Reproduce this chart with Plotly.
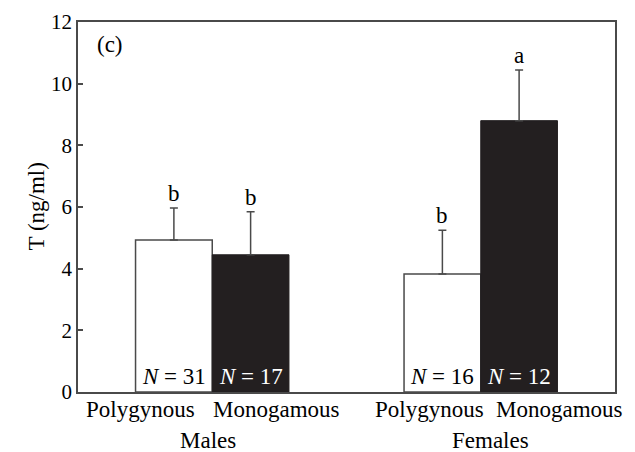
import plotly.graph_objects as go

groups = ["Males", "Females"]
systems = ["Polygynous", "Monogamous"]
mean_poly = [4.93, 3.83]
mean_mono = [4.45, 8.80]
se_poly = [1.04, 1.42]
se_mono = [1.40, 1.64]
n_poly = [31, 16]
n_mono = [17, 12]
letters_poly = ["b", "b"]
letters_mono = ["b", "a"]
y_ticks = [0, 2, 4, 6, 8, 10, 12]

FONT = "Liberation Serif"
FS = 23
AX = "#4a4a4a"
BLACK = "#231f20"

group_start = [0.75, 4.25]
x_poly = [g + 0.5 for g in group_start]
x_mono = [g + 1.5 for g in group_start]

fig = go.Figure()
fig.add_trace(go.Bar(
    x=x_poly, y=mean_poly, width=1.0, name=systems[0],
    marker=dict(color="white", line=dict(color=AX, width=1.5)),
    error_y=dict(type="data", symmetric=False, array=se_poly, arrayminus=[0, 0],
                 color=AX, thickness=1.5, width=4),
))
fig.add_trace(go.Bar(
    x=x_mono, y=mean_mono, width=1.0, name=systems[1],
    marker=dict(color=BLACK, line=dict(color=BLACK, width=1)),
    error_y=dict(type="data", symmetric=False, array=se_mono, arrayminus=[0, 0],
                 color=AX, thickness=1.5, width=4),
))

ann = []
for i in range(2):
    for x, m, e, n, l, col in [
        (x_poly[i], mean_poly[i], se_poly[i], n_poly[i], letters_poly[i], "black"),
        (x_mono[i], mean_mono[i], se_mono[i], n_mono[i], letters_mono[i], "white"),
    ]:
        ann.append(dict(x=x, y=m + e, xref="x", yref="y", text=l, showarrow=False,
                        yanchor="bottom", yshift=0, font=dict(family=FONT, size=FS, color="black")))
        ann.append(dict(x=x, y=0, xref="x", yref="y", text=f"<i>N</i> = {n}", showarrow=False,
                        yanchor="bottom", yshift=1, font=dict(family=FONT, size=FS, color=col)))

# category labels under axis
label_x = [0.81, 2.59, 4.58, 6.28]
label_txt = [systems[0], systems[1], systems[0], systems[1]]
for x, t in zip(label_x, label_txt):
    ann.append(dict(x=x, y=0, xref="x", yref="paper", text=t, showarrow=False,
                    yanchor="middle", yshift=-17, font=dict(family=FONT, size=FS, color="black")))
group_x = [1.69, 5.38]
for x, t in zip(group_x, groups):
    ann.append(dict(x=x, y=0, xref="x", yref="paper", text=t, showarrow=False,
                    yanchor="middle", yshift=-48, font=dict(family=FONT, size=FS, color="black")))
ann.append(dict(x=0.42, y=11.26, xref="x", yref="y", text="(c)", showarrow=False,
                font=dict(family=FONT, size=FS, color="black")))
ann.append(dict(x=0, y=0.5, xref="paper", yref="paper", text="T (ng/ml)", showarrow=False,
                textangle=-90, xshift=-57, font=dict(family=FONT, size=FS, color="black")))

# the page body has an 8px default margin, so the figure is made 8px smaller
fig.update_layout(
    width=627, height=444,
    margin=dict(l=70, r=20, t=12, b=60),
    paper_bgcolor="white", plot_bgcolor="white",
    showlegend=False, barmode="overlay",
    font=dict(family=FONT, size=FS, color="black"),
    annotations=ann,
    xaxis=dict(range=[0, 7], showticklabels=False, ticks="", showgrid=False, zeroline=False,
               showline=True, linecolor=AX, linewidth=1.5, mirror=True, fixedrange=True),
    yaxis=dict(range=[0, 12], tickvals=y_ticks, ticks="inside", ticklen=5, tickwidth=1.5,
               tickcolor=AX, showgrid=False, zeroline=False, showline=True, linecolor=AX,
               linewidth=1.5, mirror=True, automargin=False,
               tickfont=dict(family=FONT, size=21, color="black")),
)

fig.write_html("out.html")
